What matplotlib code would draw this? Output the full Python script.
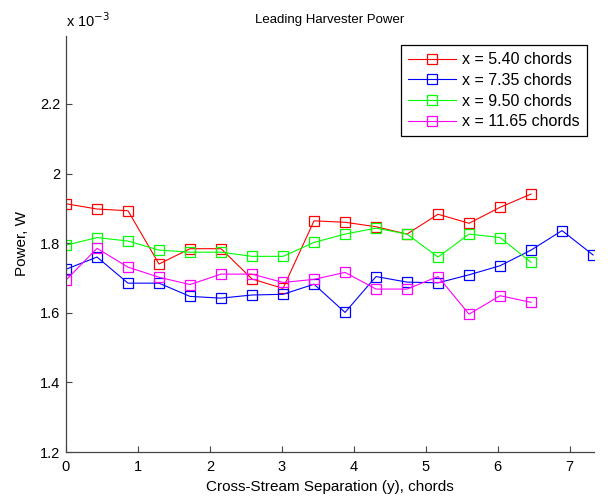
import numpy as np
import matplotlib
matplotlib.use('Agg')
import matplotlib.pyplot as plt

plt.rcParams['font.family'] = ['Liberation Sans', 'DejaVu Sans']

# cross-stream positions (chords)
y_sep = [0.0, 0.431, 0.862, 1.293, 1.724, 2.155, 2.586, 3.017, 3.448,
         3.879, 4.310, 4.741, 5.172, 5.603, 6.034, 6.465, 6.896, 7.327]

# power values in units of 1e-3 W
p_540 = [1.913, 1.898, 1.893, 1.740, 1.784, 1.784, 1.697, 1.670,
         1.864, 1.860, 1.847, 1.826, 1.883, 1.857, 1.903, 1.941]
p_735 = [1.725, 1.760, 1.685, 1.685, 1.647, 1.642, 1.651, 1.653, 1.682,
         1.601, 1.704, 1.688, 1.686, 1.709, 1.735, 1.780, 1.836, 1.766]
p_950 = [1.794, 1.816, 1.806, 1.780, 1.774, 1.774, 1.762, 1.762,
         1.802, 1.826, 1.843, 1.826, 1.760, 1.826, 1.816, 1.745]
p_1165 = [1.694, 1.785, 1.731, 1.702, 1.681, 1.711, 1.711, 1.687,
          1.696, 1.716, 1.668, 1.668, 1.704, 1.596, 1.649, 1.630]

series = [
    (p_540, 'r', 'x = 5.40 chords'),
    (p_735, 'b', 'x = 7.35 chords'),
    (p_950, '#00ff00', 'x = 9.50 chords'),
    (p_1165, '#ff00ff', 'x = 11.65 chords'),
]

fig = plt.figure(figsize=(6.08, 4.96), dpi=100)
ax = fig.add_axes([66 / 608, 1 - 452 / 496, (594 - 66) / 608, (452 - 36) / 496])

for vals, col, lab in series:
    ax.plot(y_sep[:len(vals)], vals, color=col, marker='s', mfc='none',
            mec=col, ms=7.5, mew=0.9, lw=0.8, label=lab)

ax.set_xlim(0, 7.34)
ax.set_ylim(1.2, 2.395)
ax.set_xticks(range(8))
ax.set_yticks([1.2, 1.4, 1.6, 1.8, 2.0, 2.2])
ax.set_yticklabels(['1.2', '1.4', '1.6', '1.8', '2', '2.2'])

for s in ['top', 'right']:
    ax.spines[s].set_visible(False)
for s in ['left', 'bottom']:
    ax.spines[s].set_color('#444444')
    ax.spines[s].set_linewidth(0.9)
ax.tick_params(direction='in', length=4, width=0.8, color='#444444',
               labelsize=10.5)
ax.tick_params(axis='x', pad=6)
ax.tick_params(axis='y', pad=4)

ax.set_title('Leading Harvester Power', fontsize=9.5, pad=9)
ax.set_xlabel('Cross-Stream Separation (y), chords', fontsize=11, labelpad=4)
ax.set_ylabel('Power, W', fontsize=11, labelpad=8)
ax.text(0, 1.015, r'x 10$^{-3}$', transform=ax.transAxes, fontsize=10.5,
        ha='left', va='bottom')

leg = ax.legend(loc='upper right', fontsize=11.5, fancybox=False,
                framealpha=1, edgecolor='black', borderpad=0.45,
                handlelength=3.0, handletextpad=0.4, labelspacing=0.35,
                borderaxespad=0, bbox_to_anchor=(0.987, 0.978))
leg.get_frame().set_linewidth(0.9)

fig.savefig('out.png', dpi=100)
